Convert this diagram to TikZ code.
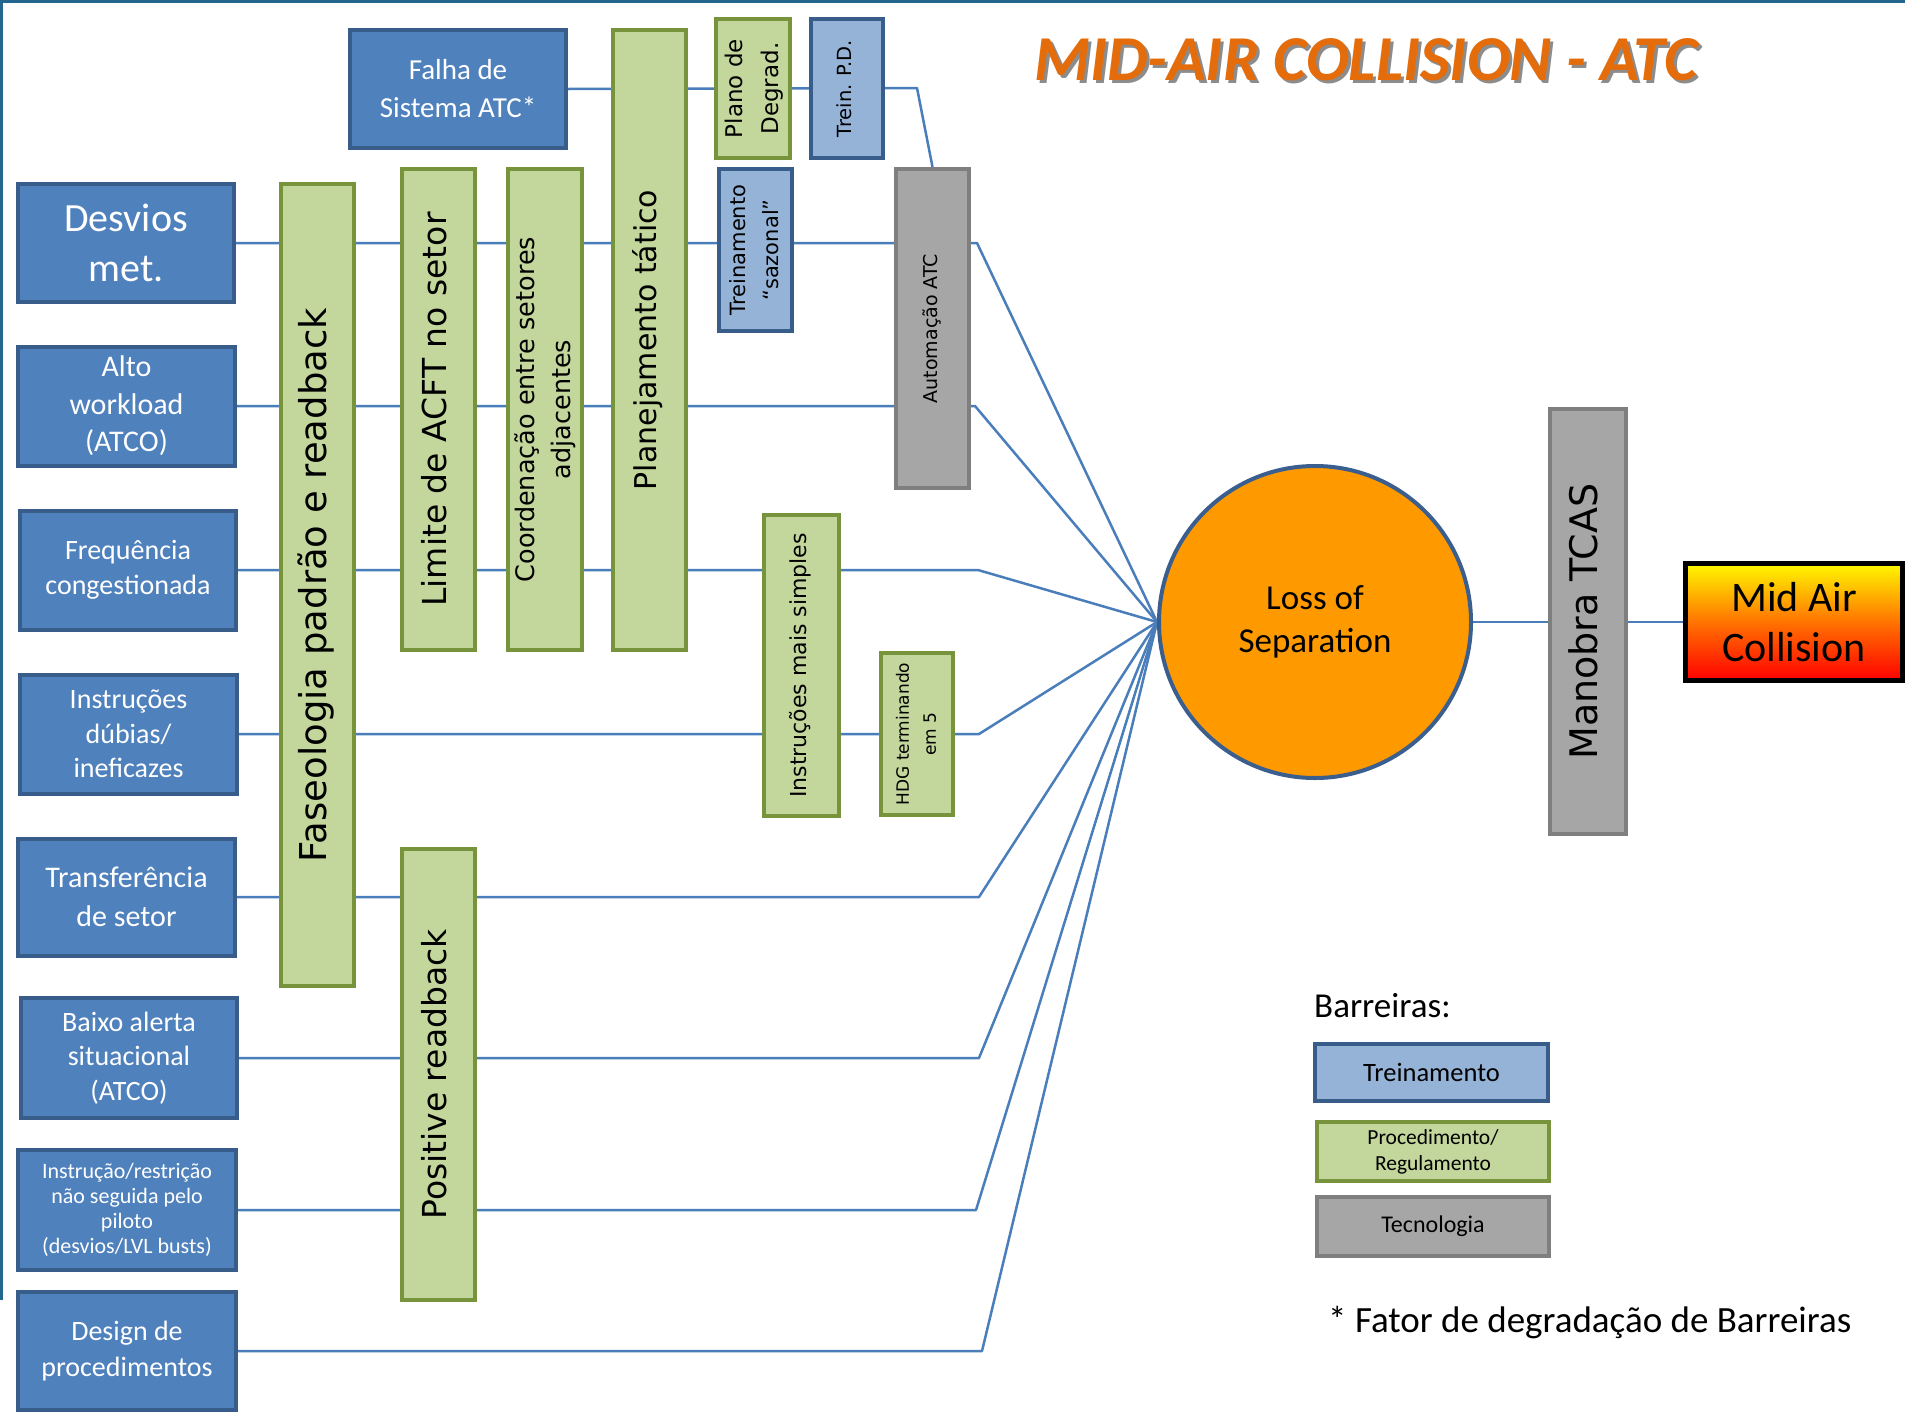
\documentclass[tikz,border=0pt]{standalone}
\usepackage{fontspec}
\setmainfont{Carlito}
\newfontfamily\dvs{DejaVu Sans}
\usepackage{graphicx}

\definecolor{causefill}{HTML}{4F81BD}
\definecolor{causeedge}{HTML}{385D8A}
\definecolor{trainfill}{HTML}{95B3D7}
\definecolor{procfill}{HTML}{C3D69B}
\definecolor{procedge}{HTML}{77933C}
\definecolor{techfill}{HTML}{A6A6A6}
\definecolor{techedge}{HTML}{7F7F7F}
\definecolor{linkblue}{HTML}{4A7EBB}
\definecolor{lossfill}{HTML}{FF9900}
\definecolor{lossedge}{HTML}{3A5F8F}
\definecolor{titleorange}{HTML}{E46C0A}
\definecolor{framecol}{HTML}{23678F}

\pgfdeclarelayer{bg}
\pgfdeclarelayer{paper}
\pgfsetlayers{paper,bg,main}

% rotated (bottom-to-top) text for the barrier bars
\newcommand\vtext[3]{\rotatebox{90}{\fontsize{#1}{#2}\dvs\begin{tabular}{@{}c@{}}#3\end{tabular}}}
\newcommand\fsz[2]{\fontsize{#1}{#2}\selectfont}

\tikzset{
  box/.style={rectangle, inner sep=0pt, line width=4pt, align=center},
  cause/.style={box, fill=causefill, draw=causeedge, text=white},
  proc/.style={box, fill=procfill, draw=procedge},
  train/.style={box, fill=trainfill, draw=causeedge},
  tech/.style={box, fill=techfill, draw=techedge},
  link/.style={draw=linkblue, line width=2.5pt, line join=round},
  plain/.style={inner sep=0pt, align=center}
}

\begin{document}
\begin{tikzpicture}[x=1pt, y=-1pt]
\useasboundingbox (0,0) rectangle (1905,1411);
\begin{pgfonlayer}{paper}
\fill[white] (0,0) rectangle (1905,1411);
\end{pgfonlayer}
\draw[framecol, line width=5pt] (0,1300) -- (0,0) -- (1905,0);

% title
\node[plain, text=black!45, font=\fsz{64}{70}\bfseries\itshape] (titleshadow) at (1369,63) {MID-AIR COLLISION - ATC};
\node[plain, text=titleorange, font=\fsz{64}{70}\bfseries\itshape] (title) at (1366,60) {MID-AIR COLLISION - ATC};

% causes
\node[cause, minimum width=216, minimum height=118, font=\fsz{29}{38}] (falha) at (458,89) {Falha de\\Sistema ATC*};
\node[cause, minimum width=216, minimum height=118, font=\fsz{40}{50}] (desvios) at (126,243) {Desvios\\met.};
\node[cause, minimum width=217, minimum height=119, font=\fsz{30}{37.5}] (alto) at (126.5,406) {Alto\\workload\\(ATCO)};
\node[cause, minimum width=216, minimum height=119, font=\fsz{28}{35}] (freq) at (128,570) {Frequência\\congestionada};
\node[cause, minimum width=217, minimum height=119, font=\fsz{28}{34.5}] (dubias) at (128.5,734) {Instruções\\dúbias/\\ineficazes};
\node[cause, minimum width=217, minimum height=117, font=\fsz{30}{39}] (transf) at (126.5,897) {Transferência\\de setor};
\node[cause, minimum width=216, minimum height=120, font=\fsz{28}{34.5}] (baixo) at (129,1058) {Baixo alerta\\situacional\\(ATCO)};
\node[cause, minimum width=218, minimum height=120, font=\fsz{22}{25}] (instr) at (127,1210) {Instrução/restrição\\não seguida pelo\\piloto\\(desvios/LVL busts)};
\node[cause, minimum width=218, minimum height=118, font=\fsz{28}{36}] (design) at (127,1351) {Design de\\procedimentos};

% barriers
\node[proc, minimum width=73, minimum height=802] (fase) at (317.5,585) {\vtext{37}{44}{Faseologia padrão e readback}};
\node[proc, minimum width=73, minimum height=481] (limite) at (438.5,409.5) {\vtext{33}{40}{Limite de ACFT no setor}};
\node[proc, minimum width=74, minimum height=481] (coord) at (545,409.5) {\vtext{25.5}{36}{Coordenação entre setores\\adjacentes}};
\node[proc, minimum width=73, minimum height=620] (plan) at (649.5,340) {\vtext{30}{36}{Planejamento tático}};
\node[proc, minimum width=74, minimum height=139] (plano) at (753,88.5) {\vtext{23}{36}{Plano de\\Degrad.}};
\node[train, minimum width=72, minimum height=139] (treinpd) at (847,88.5) {\vtext{19.5}{24}{Trein. P.D.}};
\node[train, minimum width=73, minimum height=162] (sazonal) at (755.5,250) {\vtext{21}{33}{Treinamento\\“sazonal”}};
\node[tech, minimum width=73, minimum height=319] (autom) at (932.5,328.5) {\vtext{19}{23}{Automação ATC}};
\node[proc, minimum width=75, minimum height=301] (simples) at (801.5,665.5) {\vtext{22}{27}{Instruções mais simples}};
\node[proc, minimum width=72, minimum height=162] (hdg) at (917,734) {\vtext{17}{27}{HDG terminando\\em 5}};
\node[proc, minimum width=73, minimum height=451] (posrb) at (438.5,1074.5) {\vtext{33}{40}{Positive readback}};
\node[tech, minimum width=76, minimum height=425] (tcas) at (1588,621.5) {\vtext{38}{45}{Manobra TCAS}};

% top event and consequence
\node[circle, inner sep=0pt, minimum size=312, fill=lossfill, draw=lossedge, line width=4pt, align=center, font=\fsz{35}{43}] (los) at (1315,622) {Loss of\\Separation};
\node[rectangle, inner sep=0pt, minimum width=217, minimum height=117, draw=black, line width=5pt, top color=yellow!95!orange, bottom color=red, middle color=orange!90!red, align=center, font=\fsz{42}{50}] (midair) at (1794,622) {Mid Air\\Collision};

% connectors (behind the boxes)
\begin{pgfonlayer}{bg}
\draw[link] (falha.east) -- (917,88) -- (autom.north);
\draw[link] (desvios.east) -- (977,243) -- (los.west);
\draw[link] (alto.east) -- (975,406) -- (los.west);
\draw[link] (freq.east) -- (978,570) -- (los.west);
\draw[link] (dubias.east) -- (979,734) -- (los.west);
\draw[link] (transf.east) -- (979,897) -- (los.west);
\draw[link] (baixo.east) -- (979,1058) -- (los.west);
\draw[link] (instr.east) -- (976,1210) -- (los.west);
\draw[link] (design.east) -- (982,1351) -- (los.west);
\draw[link] (los.east) -- (midair.west);
\end{pgfonlayer}

% legend
\node[plain, anchor=west, font=\fsz{35}{42}] (barreiras) at (1314,1006) {Barreiras:};
\node[train, minimum width=233, minimum height=57, font=\fsz{26.5}{30}] (legtrain) at (1431.5,1072.5) {Treinamento};
\node[proc, minimum width=232, minimum height=59, font=\fsz{21.5}{26}] (legproc) at (1433,1151.5) {Procedimento/\\Regulamento};
\node[tech, minimum width=232, minimum height=59, font=\fsz{24}{28}] (legtech) at (1433,1226.5) {Tecnologia};
\node[plain, anchor=west, font=\fsz{37}{42}] (nota) at (1328,1323) {* Fator de degradação de Barreiras};
\end{tikzpicture}
\end{document}
